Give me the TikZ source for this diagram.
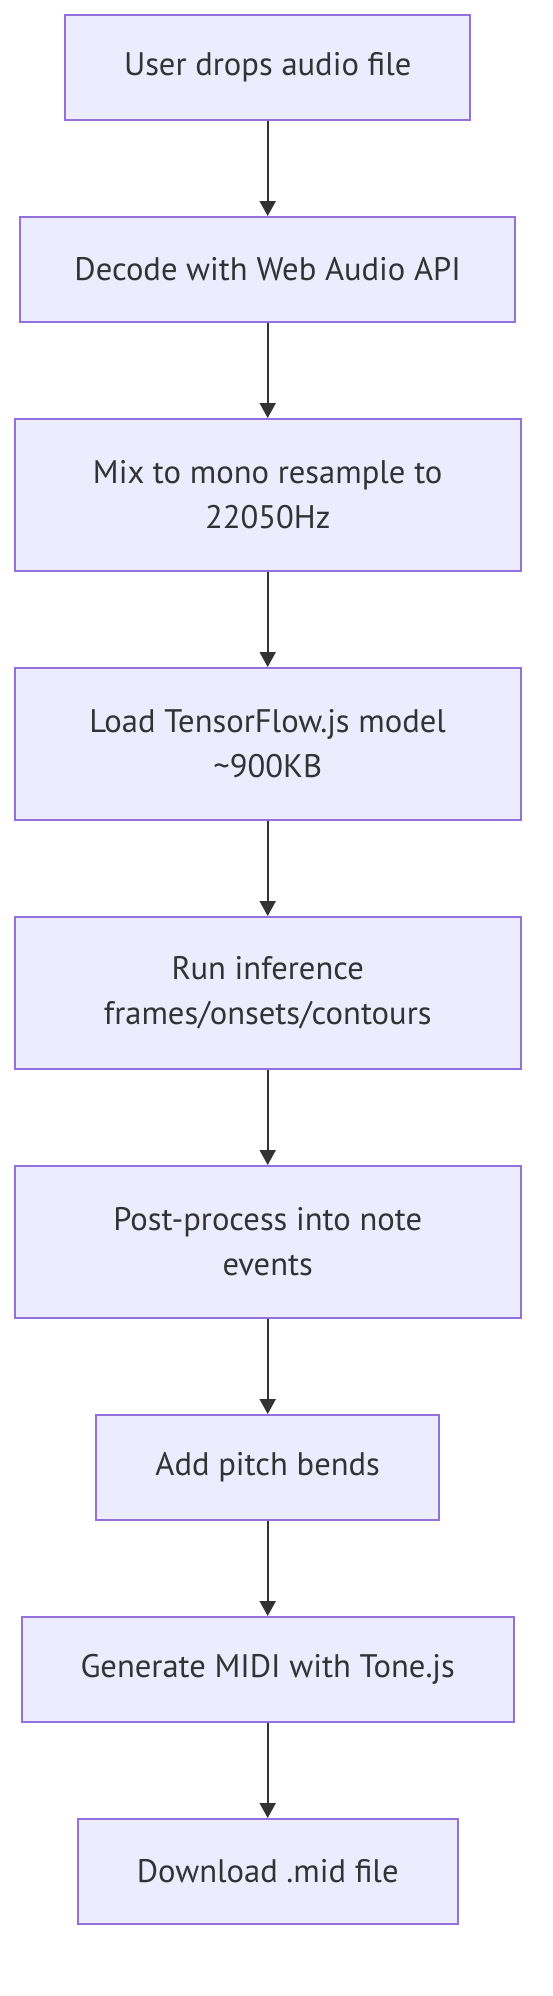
\documentclass[tikz,border=0pt]{standalone}
\usepackage{fontspec}
\setmainfont{PT Sans}
\usetikzlibrary{positioning,arrows.meta}
\definecolor{boxfill}{HTML}{ECECFF}
\definecolor{boxline}{HTML}{9370DB}
\definecolor{ink}{HTML}{333333}

\begin{document}
\begin{tikzpicture}[
  box/.style={draw=boxline, fill=boxfill, line width=1pt, text=ink, inner xsep=29.5pt, inner ysep=0pt, minimum height=52.5pt, font=\fontsize{16.3}{22.5}\selectfont},
  wide/.style={box, minimum width=253pt, minimum height=76pt, align=center},
  arr/.style={draw=ink, line width=1pt, -{Triangle[length=7.5pt,width=8pt]}},
  node distance=47.5pt
]
\useasboundingbox (0,0) rectangle (276pt,-998pt);
\node [box] (user) at (133.85pt,-33.75pt) {User drops audio file};
\node [box, inner xsep=27pt, below=of user] (decode) {Decode with Web Audio API};
\node [wide, below=of decode] (mix) {Mix to mono resample to\\22050Hz};
\node [wide, below=of mix] (load) {Load TensorFlow.js model\\\textasciitilde900KB};
\node [wide, below=of load] (infer) {Run inference\\frames/onsets/contours};
\node [wide, below=of infer] (post) {Post-process into note\\events};
\node [box, below=of post] (bends) {Add pitch bends};
\node [box, below=of bends] (midi) {Generate MIDI with Tone.js};
\node [box, below=of midi] (down) {Download .mid file};
\draw [arr] (user) -- (decode);
\draw [arr] (decode) -- (mix);
\draw [arr] (mix) -- (load);
\draw [arr] (load) -- (infer);
\draw [arr] (infer) -- (post);
\draw [arr] (post) -- (bends);
\draw [arr] (bends) -- (midi);
\draw [arr] (midi) -- (down);
\end{tikzpicture}
\end{document}
